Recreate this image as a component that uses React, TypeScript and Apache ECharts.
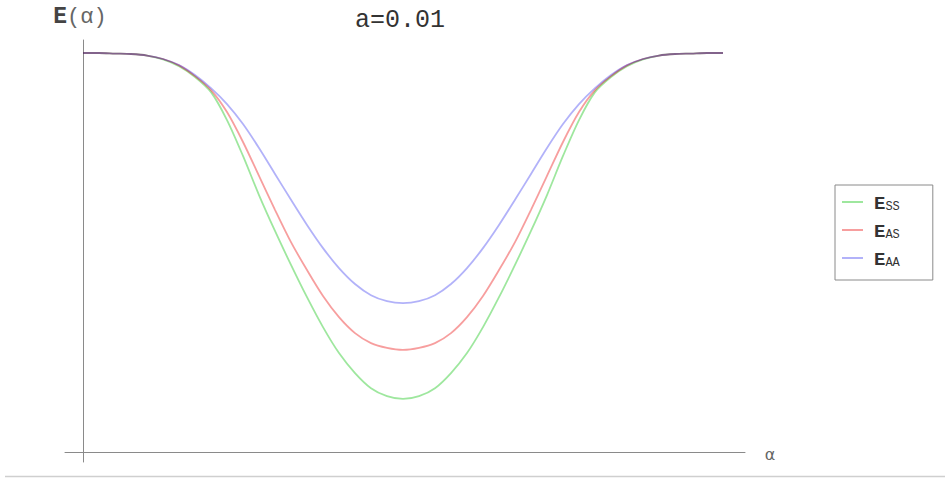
import React, { useEffect, useRef } from "react";
import * as echarts from "echarts";

const alphaValues = [
  0, 0.25, 0.5, 0.75, 1, 1.25, 1.5, 1.75, 2, 2.25, 2.5, 2.75, 3, 3.25, 3.5, 3.75, 4, 4.25, 4.5, 4.75, 5,
  5.25, 5.5, 5.75, 6, 6.25, 6.5, 6.75, 7, 7.25, 7.5, 7.75, 8, 8.25, 8.5, 8.75, 9, 9.25, 9.5, 9.75, 10,
];
const essValues = [
  1.0, 1.0, 0.9987, 0.9975, 0.9937, 0.984, 0.967, 0.94, 0.902, 0.832, 0.742, 0.644, 0.554, 0.469, 0.388, 0.313, 0.248, 0.198, 0.16, 0.14, 0.133,
  0.14, 0.16, 0.198, 0.248, 0.313, 0.388, 0.469, 0.554, 0.644, 0.742, 0.832, 0.902, 0.94, 0.967, 0.984, 0.9937, 0.9975, 0.9987, 1.0, 1.0,
];
const easValues = [
  1.0, 1.0, 0.9987, 0.9975, 0.9937, 0.985, 0.969, 0.942, 0.907, 0.852, 0.777, 0.692, 0.607, 0.526, 0.456, 0.391, 0.338, 0.298, 0.273, 0.261, 0.256,
  0.261, 0.273, 0.298, 0.338, 0.391, 0.456, 0.526, 0.607, 0.692, 0.777, 0.852, 0.907, 0.942, 0.969, 0.985, 0.9937, 0.9975, 0.9987, 1.0, 1.0,
];
const eaaValues = [
  1.0, 1.0, 0.9987, 0.9975, 0.9937, 0.985, 0.97, 0.945, 0.912, 0.872, 0.822, 0.762, 0.697, 0.632, 0.569, 0.511, 0.461, 0.421, 0.393, 0.378, 0.373,
  0.378, 0.393, 0.421, 0.461, 0.511, 0.569, 0.632, 0.697, 0.762, 0.822, 0.872, 0.912, 0.945, 0.97, 0.985, 0.9937, 0.9975, 0.9987, 1.0, 1.0,
];
const seriesNames = ["E_SS", "E_AS", "E_AA"];
const subscripts = ["SS", "AS", "AA"];
const seriesColors = ["#00c000", "#eb0000", "#0000eb"];
const seriesOpacity = [0.38, 0.38, 0.3];
const titleText = "a=0.01";
const yAxisMain = "E";
const yAxisArg = "(α)";
const xAxisLabel = "α";

export default function App() {
  const ref = useRef<HTMLDivElement>(null);
  useEffect(() => {
    document.body.style.margin = "0";
    if (!ref.current) return;
    const chart = echarts.init(ref.current, null, { renderer: "svg" });
    const seriesData = [essValues, easValues, eaaValues];
    const mono = "'Liberation Mono', 'DejaVu Sans Mono', monospace";
    chart.setOption({
      animation: false,
      backgroundColor: "#ffffff",
      grid: { left: 65, right: 200, top: 40, bottom: 16 },
      xAxis: {
        type: "value",
        min: -0.28125,
        max: 10.34375,
        axisLine: { onZero: true, lineStyle: { color: "#8a8a8a", width: 1 } },
        axisTick: { show: false },
        axisLabel: { show: false },
        splitLine: { show: false },
      },
      yAxis: {
        type: "value",
        min: -0.025,
        max: 1.0326,
        axisLine: { show: true, onZero: true, lineStyle: { color: "#8a8a8a", width: 1 } },
        axisTick: { show: false },
        axisLabel: { show: false },
        splitLine: { show: false },
      },
      legend: {
        orient: "vertical",
        left: 835,
        top: 185,
        borderColor: "#8a8a8a",
        borderWidth: 1,
        padding: [9, 33, 11, 7],
        itemGap: 9,
        itemWidth: 21,
        itemHeight: 2,
        icon: "rect",
        data: seriesNames,
        formatter: (name: string) => {
          const i = seriesNames.indexOf(name);
          return "{e|E}{s|" + subscripts[i] + "}";
        },
        textStyle: {
          fontFamily: mono,
          rich: {
            e: { fontFamily: mono, fontSize: 19, fontWeight: "bold", color: "#333", verticalAlign: "bottom", lineHeight: 22, padding: [0, 0, 0, 6] },
            s: { fontFamily: mono, fontSize: 12, color: "#333", verticalAlign: "bottom", lineHeight: 18 },
          },
        },
      },
      series: seriesNames.map((n, i) => ({
        name: n,
        type: "line",
        data: alphaValues.map((a, j) => [a, seriesData[i][j]]),
        smooth: 0.3,
        symbol: "none",
        lineStyle: { color: seriesColors[i], width: 1.8, opacity: seriesOpacity[i] },
        itemStyle: { color: seriesColors[i], opacity: seriesOpacity[i] },
      })),
      graphic: [
        {
          type: "text",
          x: 400,
          y: 20,
          style: {
            text: titleText,
            font: "25px 'Liberation Mono', monospace",
            fill: "#333",
            align: "center",
            verticalAlign: "middle",
          },
        },
        {
          type: "text",
          x: 80,
          y: 17,
          style: {
            text: "{b|" + yAxisMain + "}{n|" + yAxisArg + "}",
            align: "center",
            verticalAlign: "middle",
            rich: {
              b: { font: "bold 23px 'Liberation Mono', monospace", fill: "#444" },
              n: { font: "22px 'Liberation Mono', monospace", fill: "#666" },
            },
          },
        },
        {
          type: "text",
          x: 770,
          y: 454,
          style: {
            text: xAxisLabel,
            font: "16px 'DejaVu Sans', sans-serif",
            fill: "#666",
            align: "center",
            verticalAlign: "middle",
          },
        },
        {
          type: "line",
          shape: { x1: 5, y1: 476.5, x2: 945, y2: 476.5 },
          style: { stroke: "#cfcfcf", lineWidth: 1.5 },
        },
      ],
    });
    return () => chart.dispose();
  }, []);
  return <div ref={ref} style={{ width: 945, height: 478 }} />;
}
